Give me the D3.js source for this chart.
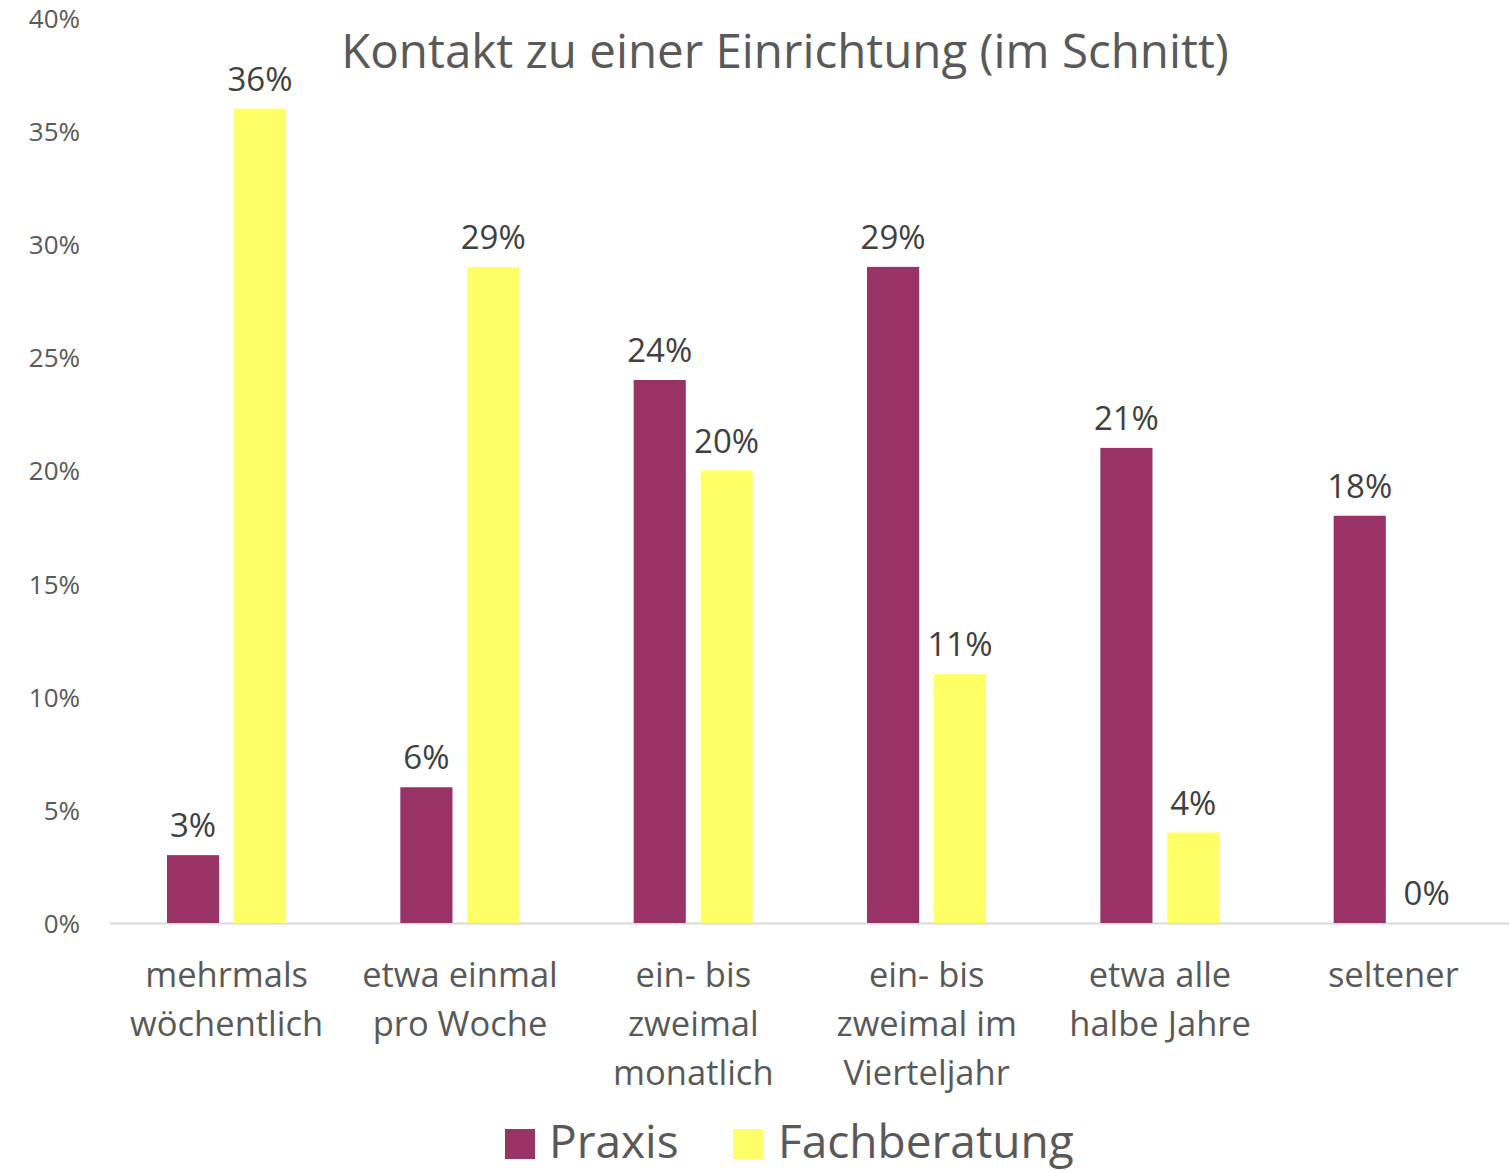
<!DOCTYPE html>
<html>
<head>
<meta charset="utf-8">
<script src="https://cdn.jsdelivr.net/npm/d3@7"></script>
<style>
  body { margin: 0; background: #fff; }
  svg { display: block; font-family: 'Open Sans', sans-serif; }
</style>
</head>
<body>
<div id="chart"></div>
<script>
const categories = [
  ['mehrmals', 'wöchentlich'],
  ['etwa einmal', 'pro Woche'],
  ['ein- bis', 'zweimal', 'monatlich'],
  ['ein- bis', 'zweimal im', 'Vierteljahr'],
  ['etwa alle', 'halbe Jahre'],
  ['seltener']
];
const seriesNames = ['Praxis', 'Fachberatung'];
const praxis = [3, 6, 24, 29, 21, 18];
const fachberatung = [36, 29, 20, 11, 4, 0];
const yTicks = [0, 5, 10, 15, 20, 25, 30, 35, 40];
const colors = ['#993366', '#FFFF66'];

const width = 1509;
const height = 1173;

const svg = d3.select('#chart').append('svg')
  .attr('width', width)
  .attr('height', height);

const rows = categories.map((c, i) => ({
  key: c.join(' '),
  lines: c,
  values: [praxis[i], fachberatung[i]]
}));

const x0 = d3.scaleBand()
  .domain(rows.map(d => d.key))
  .range([110, 1510]);

const x1 = d3.scaleBand()
  .domain(seriesNames)
  .range([57, 176])
  .paddingInner(0.22);

const y = d3.scaleLinear().domain([0, 40]).range([923, 18]);

// y tick labels (no axis line)
svg.append('g')
  .selectAll('text')
  .data(yTicks)
  .join('text')
  .attr('x', 80)
  .attr('y', d => y(d))
  .attr('dy', '0.38em')
  .attr('text-anchor', 'end')
  .attr('font-size', 26)
  .attr('fill', '#595959')
  .text(d => d + '%');

// baseline
svg.append('line')
  .attr('x1', 110).attr('x2', 1509)
  .attr('y1', y(0) + 0.5).attr('y2', y(0) + 0.5)
  .attr('stroke', '#d9d9d9')
  .attr('stroke-width', 2);

const groups = svg.append('g')
  .selectAll('g')
  .data(rows)
  .join('g')
  .attr('transform', d => `translate(${x0(d.key)},0)`);

const cells = groups.selectAll('g.cell')
  .data(d => d.values.map((v, i) => ({ name: seriesNames[i], value: v, i })))
  .join('g')
  .attr('class', 'cell');

cells.append('rect')
  .attr('x', d => x1(d.name))
  .attr('width', x1.bandwidth())
  .attr('y', d => y(d.value))
  .attr('height', d => y(0) - y(d.value))
  .attr('fill', d => colors[d.i]);

cells.append('text')
  .attr('x', d => x1(d.name) + x1.bandwidth() / 2)
  .attr('y', d => y(d.value) - 18)
  .attr('text-anchor', 'middle')
  .attr('font-size', 33)
  .attr('fill', '#404040')
  .text(d => d.value + '%');

// category labels
groups.append('text')
  .attr('text-anchor', 'middle')
  .attr('font-size', 34.5)
  .attr('fill', '#595959')
  .selectAll('tspan')
  .data(d => d.lines)
  .join('tspan')
  .attr('x', x0.bandwidth() / 2)
  .attr('y', (d, i) => 987 + i * 49)
  .text(d => d);

// title
svg.append('text')
  .attr('x', 785)
  .attr('y', 68)
  .attr('text-anchor', 'middle')
  .attr('font-size', 47.5)
  .attr('fill', '#595959')
  .text('Kontakt zu einer Einrichtung (im Schnitt)');

// legend
const legendPos = [{ sx: 505, tx: 549 }, { sx: 733, tx: 778 }];
const legend = svg.append('g')
  .selectAll('g')
  .data(seriesNames)
  .join('g');

legend.append('rect')
  .attr('x', (d, i) => legendPos[i].sx)
  .attr('y', 1129)
  .attr('width', 30)
  .attr('height', 30)
  .attr('fill', (d, i) => colors[i]);

legend.append('text')
  .attr('x', (d, i) => legendPos[i].tx)
  .attr('y', 1158)
  .attr('font-size', 46)
  .attr('fill', '#595959')
  .text(d => d);
</script>
</body>
</html>
